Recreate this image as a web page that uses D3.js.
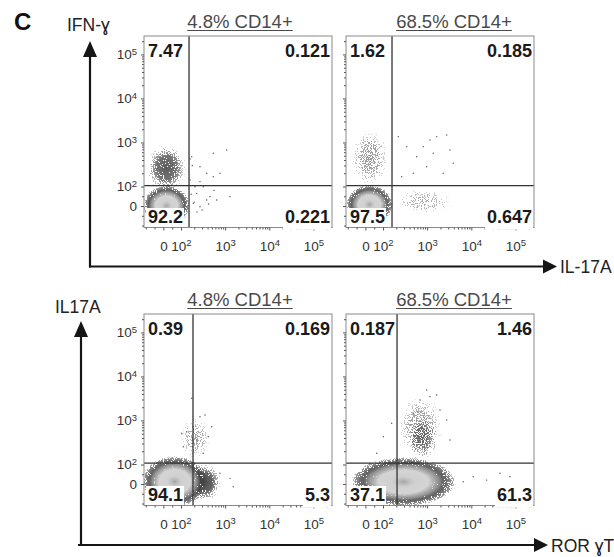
<!DOCTYPE html>
<html>
<head>
<meta charset="utf-8">
<script src="https://cdn.jsdelivr.net/npm/d3@7"></script>
<style>
body { margin: 0; background: #fff; }
svg { font-family: Arial, "Liberation Sans", Helvetica, sans-serif; }
</style>
</head>
<body>
<svg id="chart" width="614" height="557"></svg>
<script>
// panels: top-left, top-right, bottom-left, bottom-right
var titles = ["4.8% CD14+", "68.5% CD14+", "4.8% CD14+", "68.5% CD14+"];
var xLabels = ["IL-17A", "ROR \u0263T"];
var yLabels = ["IFN-\u0263", "IL17A"];
var quadUL = ["7.47", "1.62", "0.39", "0.187"];
var quadUR = ["0.121", "0.185", "0.169", "1.46"];
var quadLL = ["92.2", "97.5", "94.1", "37.1"];
var quadLR = ["0.221", "0.647", "5.3", "61.3"];
var gateX = [152, 160, 187, 208];
var gateY = [105, 105, 108, 108];
var tickValues = [0, 100, 1000, 10000, 100000];
var minorTicks = [-100, -50, 50, 200, 300, 400, 500, 600, 700, 800, 900,
  2000, 3000, 4000, 5000, 6000, 7000, 8000, 9000,
  20000, 30000, 40000, 50000, 60000, 70000, 80000, 90000, 200000];

// dense populations: [xMin, xMax, yMin, yMax]
var densePops = [
  [[-104, 144, -92, 97]],
  [[-99, 152, -85, 100]],
  [[-108, 349, -108, 140]],
  [[-59, 3640, -105, 133]]
];
// scattered populations: [xMin, xMax, yMin, yMax, density]
var sparsePops = [
  [[-110, 150, 60, 1050, 0.85]],
  [[-95, 150, 80, 2400, 0.55], [160, 4500, -55, 100, 0.45]],
  [[123, 900, -100, 118, 0.95], [83, 520, 110, 1400, 0.5]],
  [[190, 2600, 103, 4700, 0.55], [315, 1943, 114, 1334, 0.65]]
];
// single events outside the clouds: [x, y]
var events = [
  [[175,475],[269,282],[381,200],[538,167],[320,99],[227,65],[453,48],[642,31],[1285,48],
   [190,14],[269,-4],[538,569],[1081,676],[763,200],[381,31],[160,141],[207,99],[269,129],
   [170,60],[200,20],[230,-30],[300,-20],[420,10],[560,80],[180,300],[160,420]],
  [[222,1355],[344,803],[578,475],[1157,1140],[1640,1355],[2760,1481],[974,282],[2313,200],
   [3893,337],[485,200],[265,167],[1374,569],[3280,676],[816,803]],
  [[104,512],[135,557],[269,1219],[349,1334],[495,723],[227,360],[415,428],[763,55],
   [1285,29],[1524,-14],[320,180],[175,3197],[113,254]],
  [[974,4930],[1157,3475],[1640,3800],[687,2924],[485,1458],[1950,1733],[157,864],[102,428],
   [2760,1026],[3280,360],[44360,55],[74700,37],[22200,20],[6560,12],[11000,37],[64,180],[26,106]]
];

var panelX = [144, 346, 144, 346];
var panelY = [36, 36, 314, 314];
var titleX = [240, 454, 240, 454];
var pw = 188, ph = 191.5;

var svg = d3.select("#chart");
var defs = svg.append("defs");

// speckle texture so clouds read as dots
var f = defs.append("filter").attr("id", "grain").attr("filterUnits", "userSpaceOnUse")
  .attr("x", 0).attr("y", 0).attr("width", 614).attr("height", 557)
  .attr("color-interpolation-filters", "sRGB");
f.append("feTurbulence").attr("type", "fractalNoise").attr("baseFrequency", 0.9)
  .attr("numOctaves", 1).attr("seed", 4).attr("result", "noise");
f.append("feColorMatrix").attr("in", "noise").attr("type", "matrix")
  .attr("values", "0 0 0 0 0  0 0 0 0 0  0 0 0 0 0  2 0 0 0 -0.5").attr("result", "na");
f.append("feComposite").attr("in", "SourceGraphic").attr("in2", "na").attr("operator", "arithmetic")
  .attr("k1", 0).attr("k2", 1).attr("k3", -1).attr("k4", 0.48).attr("result", "diff");
f.append("feComponentTransfer").attr("in", "diff").attr("result", "mask")
  .append("feFuncA").attr("type", "discrete").attr("tableValues", "0 1");
f.append("feComposite").attr("in", "mask").attr("in2", "SourceAlpha").attr("operator", "in").attr("result", "mask2");
f.append("feFlood").attr("flood-color", "#404040").attr("result", "ink");
f.append("feComposite").attr("in", "ink").attr("in2", "mask2").attr("operator", "in");

function radial(id, stops) {
  var gr = defs.append("radialGradient").attr("id", id);
  stops.forEach(function(s) {
    gr.append("stop").attr("offset", s[0]).attr("stop-color", s[1]).attr("stop-opacity", s[2]);
  });
}
radial("haloG", [[0, "#000", 0.9], [0.72, "#000", 0.9], [0.9, "#000", 0.55], [1, "#000", 0]]);
radial("sparseG", [[0, "#000", 1], [0.45, "#000", 0.85], [1, "#000", 0]]);
radial("coreG", [[0, "#cdcdcd", 1], [0.6, "#d4d4d4", 1], [0.85, "#c0c0c0", 0.55], [1, "#b8b8b8", 0]]);
radial("centerG", [[0, "#9c9c9c", 0.85], [1, "#b8b8b8", 0]]);

// linear around zero, log above 10^2 (biexponential-like display)
function biex(p0, pLin, p1) {
  var lin = d3.scaleLinear().domain([-110, 100]).range([p0, pLin]);
  var lg = d3.scaleLog().domain([100, 262144]).range([pLin, p1]);
  function s(v) { return v < 100 ? lin(v) : lg(v); }
  s.range = function() { return [p0, p1]; };
  s.domain = function() { return [-110, 262144]; };
  s.copy = function() { return s; };
  return s;
}

function ell(sel, d, x, y, k) {
  var x0 = x(d[0]), x1 = x(d[1]), y0 = y(d[2]), y1 = y(d[3]);
  return sel.append("ellipse")
    .attr("cx", (x0 + x1) / 2).attr("cy", (y0 + y1) / 2)
    .attr("rx", Math.abs(x1 - x0) / 2 * k).attr("ry", Math.abs(y0 - y1) / 2 * k);
}

function supLabels(axisG) {
  axisG.selectAll(".tick text").each(function(d) {
    var t = d3.select(this).text(null);
    if (d === 0) { t.text("0"); return; }
    t.append("tspan").text("10");
    t.append("tspan").attr("dy", "-0.5em").attr("font-size", "9.5px").text(Math.round(Math.log10(d)));
  });
}

function styleAxis(a) {
  a.attr("font-family", null).attr("font-size", "13.5px");
  a.select(".domain").remove();
  a.selectAll(".tick line").attr("stroke", "#555");
  a.selectAll(".tick text").attr("fill", "#333");
}

function blank() { return ""; }

panelX.forEach(function(px, i) {
  var py = panelY[i];
  var x = biex(px, px + 37, px + pw);
  var y = biex(py + ph, py + ph - 41, py);
  var g = svg.append("g");

  defs.append("clipPath").attr("id", "clip" + i).append("rect")
    .attr("x", px).attr("y", py).attr("width", pw).attr("height", ph);
  var plot = g.append("g").attr("clip-path", "url(#clip" + i + ")");

  sparsePops[i].forEach(function(d) {
    ell(plot, d, x, y, 1).attr("fill", "url(#sparseG)").attr("fill-opacity", d[4]).attr("filter", "url(#grain)");
  });
  densePops[i].forEach(function(d) {
    ell(plot, d, x, y, 1.12).attr("fill", "url(#haloG)").attr("filter", "url(#grain)");
    ell(plot, d, x, y, 0.86).attr("fill", "url(#coreG)");
    ell(plot, d, x, y, 0.25).attr("fill", "url(#centerG)");
  });
  plot.selectAll("circle.ev").data(events[i]).enter().append("circle")
    .attr("class", "ev")
    .attr("cx", function(d) { return x(d[0]); })
    .attr("cy", function(d) { return y(d[1]); })
    .attr("r", 0.7).attr("fill", "#555");

  // quadrant gates
  g.append("line").attr("x1", x(gateX[i])).attr("x2", x(gateX[i]))
    .attr("y1", py).attr("y2", py + ph).attr("stroke", "#333").attr("stroke-width", 1.3);
  g.append("line").attr("x1", px).attr("x2", px + pw)
    .attr("y1", y(gateY[i])).attr("y2", y(gateY[i])).attr("stroke", "#333").attr("stroke-width", 1.3);

  // frame
  g.append("rect").attr("x", px).attr("y", py).attr("width", pw).attr("height", ph)
    .attr("fill", "none").attr("stroke", "#8a8a8a").attr("stroke-width", 1);

  // axes (right-hand panels keep y ticks but no y labels)
  var xa = g.append("g").attr("transform", "translate(0," + (py + ph) + ")")
    .call(d3.axisBottom(x).tickValues(tickValues).tickSize(3).tickPadding(11).tickFormat(blank));
  styleAxis(xa); supLabels(xa);
  var xm = g.append("g").attr("transform", "translate(0," + (py + ph) + ")")
    .call(d3.axisBottom(x).tickValues(minorTicks).tickSize(2).tickFormat(blank));
  styleAxis(xm);
  var ya = g.append("g").attr("transform", "translate(" + px + ",0)")
    .call(d3.axisLeft(y).tickValues(tickValues).tickSize(3).tickPadding(4).tickFormat(blank));
  styleAxis(ya);
  if (i % 2 === 0) supLabels(ya);
  var ym = g.append("g").attr("transform", "translate(" + px + ",0)")
    .call(d3.axisLeft(y).tickValues(minorTicks).tickSize(2).tickFormat(blank));
  styleAxis(ym);

  // quadrant percentages
  var boxes = g.append("g");
  var lab = g.append("g").attr("font-weight", "bold").attr("font-size", "18px").attr("fill", "#1a1a1a");
  lab.append("text").attr("x", px + 4).attr("y", py + 21).text(quadUL[i]);
  lab.append("text").attr("x", px + pw - 2).attr("y", py + 21).attr("text-anchor", "end").text(quadUR[i]);
  var ll = lab.append("text").attr("x", px + 4).attr("y", py + ph - 4.5).text(quadLL[i]);
  var lr = lab.append("text").attr("x", px + pw - 2).attr("y", py + ph - 4.5).attr("text-anchor", "end").text(quadLR[i]);
  [ll, lr].forEach(function(t, j) {
    var b = t.node().getBBox();
    boxes.append("rect").attr("x", b.x - 2).attr("y", b.y + 1)
      .attr("width", b.width + 3).attr("height", py + ph - b.y - (j === 0 ? 1.5 : -1))
      .attr("fill", "#fff");
  });

  // title with underline
  var tt = g.append("text").attr("x", titleX[i]).attr("y", py - 8).attr("text-anchor", "middle")
    .attr("font-size", "18.5px").attr("fill", "#4a4a4a").text(titles[i]);
  var tb = tt.node().getBBox();
  g.append("line").attr("x1", tb.x).attr("x2", tb.x + tb.width)
    .attr("y1", py - 5.5).attr("y2", py - 5.5).attr("stroke", "#4a4a4a").attr("stroke-width", 1);
});

// big axis arrows
var arrows = [
  {vx: 90, vTip: 41, hy: 266.5, hx0: 89, hTip: 557},
  {vx: 81, vTip: 321, hy: 545, hx0: 78, hTip: 548}
];
arrows.forEach(function(a, i) {
  var g = svg.append("g").attr("fill", "#151515").attr("stroke", "#151515");
  g.append("line").attr("x1", a.vx).attr("x2", a.vx).attr("y1", a.hy + 1).attr("y2", a.vTip + 14).attr("stroke-width", 2.2);
  g.append("path").attr("stroke", "none")
    .attr("d", "M" + (a.vx - 7) + "," + (a.vTip + 16) + "L" + (a.vx + 7) + "," + (a.vTip + 16) + "L" + a.vx + "," + a.vTip + "Z");
  g.append("line").attr("x1", a.hx0).attr("x2", a.hTip - 12).attr("y1", a.hy).attr("y2", a.hy).attr("stroke-width", 2.2);
  g.append("path").attr("stroke", "none")
    .attr("d", "M" + (a.hTip - 14) + "," + (a.hy - 7) + "L" + (a.hTip - 14) + "," + (a.hy + 7) + "L" + a.hTip + "," + a.hy + "Z");
  svg.append("text").attr("x", a.hTip + 3).attr("y", a.hy + 6.5).attr("font-size", "17.5px")
    .attr("fill", "#222").text(xLabels[i]);
});
svg.append("text").attr("x", 67).attr("y", 31).attr("font-size", "17.5px").attr("fill", "#222").text(yLabels[0]);
svg.append("text").attr("x", 55).attr("y", 313).attr("font-size", "17.5px").attr("fill", "#222").text(yLabels[1]);

svg.append("text").attr("x", 14).attr("y", 30).attr("font-size", "24px").attr("font-weight", "bold")
  .attr("fill", "#111").text("C");
</script>
</body>
</html>
